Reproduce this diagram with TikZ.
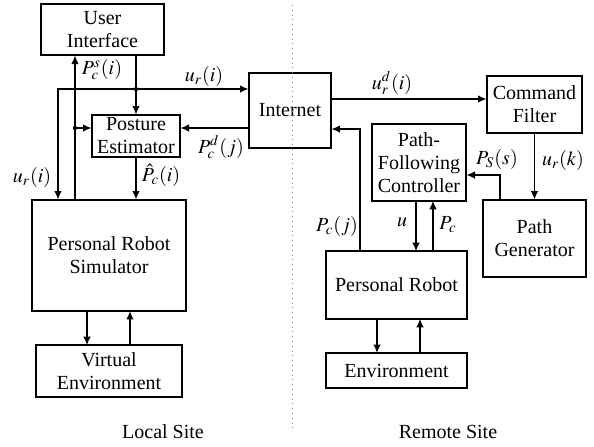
\documentclass[tikz,border=0pt]{standalone}
\usepackage{mathptmx}
\usepackage{fontspec}
\setmainfont{Liberation Serif}
\usetikzlibrary{arrows.meta}

\begin{document}
\begin{tikzpicture}[%
      x=0.5pt, y=-0.5pt,
      font=\fontsize{10}{11.5}\selectfont,
      blk/.style={draw, line width=0.6pt, inner sep=0pt, align=center},
      sig/.style={line width=0.6pt, -{Latex[length=4.2pt,width=3.8pt]}},
      lbl/.style={inner sep=0.5pt},
      ]
      \useasboundingbox (0,0) rectangle (594,446);

      \node [blk, minimum width=61.5pt, minimum height=25.5pt] (UI) at (102.5,29.5) {User\\Interface};
      \node [blk, minimum width=44pt, minimum height=21pt] (PE) at (136,136) {Posture\\Estimator};
      \node [blk, minimum width=41pt, minimum height=37.5pt] (Internet) at (290,110.5) {Internet};
      \node [blk, minimum width=77pt, minimum height=55.5pt] (PRS) at (109,255.5) {Personal Robot\\Simulator};
      \node [blk, minimum width=73pt, minimum height=26pt] (VE) at (109,371) {Virtual\\Environment};
      \node [blk, minimum width=47.5pt, minimum height=28.5pt] (CF) at (534.5,104.5) {Command\\Filter};
      \node [blk, minimum width=47pt, minimum height=38.5pt] (PFC) at (419,162.5) {Path-\\Following\\Controller};
      \node [blk, minimum width=51.5pt, minimum height=38.5pt] (PG) at (534.5,238.5) {Path\\Generator};
      \node [blk, minimum width=70.5pt, minimum height=34pt] (PR) at (396.5,285) {Personal Robot};
      \node [blk, minimum width=70.5pt, minimum height=17.5pt] (Env) at (396.5,370.5) {Environment};

      \coordinate (j1) at (136,89);
      \coordinate (ul) at (58,89);
      \coordinate (j2) at (75,128);
      \coordinate (ud) at (331,99);
      \coordinate (ps) at (500,175);
      \coordinate (pc) at (360,129);

      \draw [sig] (PE.north |- UI.south) -- (PE.north);
      \fill (j1) circle (2.2);
      \draw [sig] (j1) -- (Internet.west |- j1);
      \draw [sig] (j1) -- (ul) -- (ul |- PRS.north);
      \draw [sig] (j2 |- PRS.north) -- (j2 |- UI.south);
      \fill (j2) circle (2.2);
      \draw [sig] (j2) -- (PE.west |- j2);
      \draw [sig] (Internet.west |- j2) -- (PE.east |- j2);
      \draw [sig] (PE.south) -- (PE.south |- PRS.north);
      \draw [sig] (87,311) -- (87,345);
      \draw [sig, line width=0.9pt] (130,345) -- (130,311);

      \draw [sig] (ud) -- (CF.west |- ud);
      \draw [sig] (CF.south) -- (PG.north);
      \draw [sig] (ps |- PG.north) -- (ps) -- (PFC.east |- ps);
      \draw [sig] (pc |- PR.north) -- (pc) -- (Internet.east |- pc);
      \draw [sig] (416,201) -- (416,251);
      \draw [sig] (433,251) -- (433,201);
      \draw [sig, line width=0.9pt] (377,319) -- (377,353);
      \draw [sig] (420,353) -- (420,319);

      \draw [color=gray, line width=0.4pt, dotted] (292,5) -- (292,428);

      \node [lbl] at (102,70) {$P_c^s(i)$};
      \node [lbl] at (204,76) {$u_r(i)$};
      \node [lbl] at (221,147) {$P_c^d(j)$};
      \node [lbl] at (32,177) {$u_r(i)$};
      \node [lbl] at (161,175) {$\hat{P}_c(i)$};
      \node [lbl] at (392,83) {$u_r^d(i)$};
      \node [lbl] at (497,159) {$P_S(s)$};
      \node [lbl] at (563,160) {$u_r(k)$};
      \node [lbl] at (337,226) {$P_c(j)$};
      \node [lbl] at (402,222) {$u$};
      \node [lbl] at (448,225) {$P_c$};

      \node at (163,432) {Local Site};
      \node at (448,432) {Remote Site};
      \end{tikzpicture}
\end{document}
